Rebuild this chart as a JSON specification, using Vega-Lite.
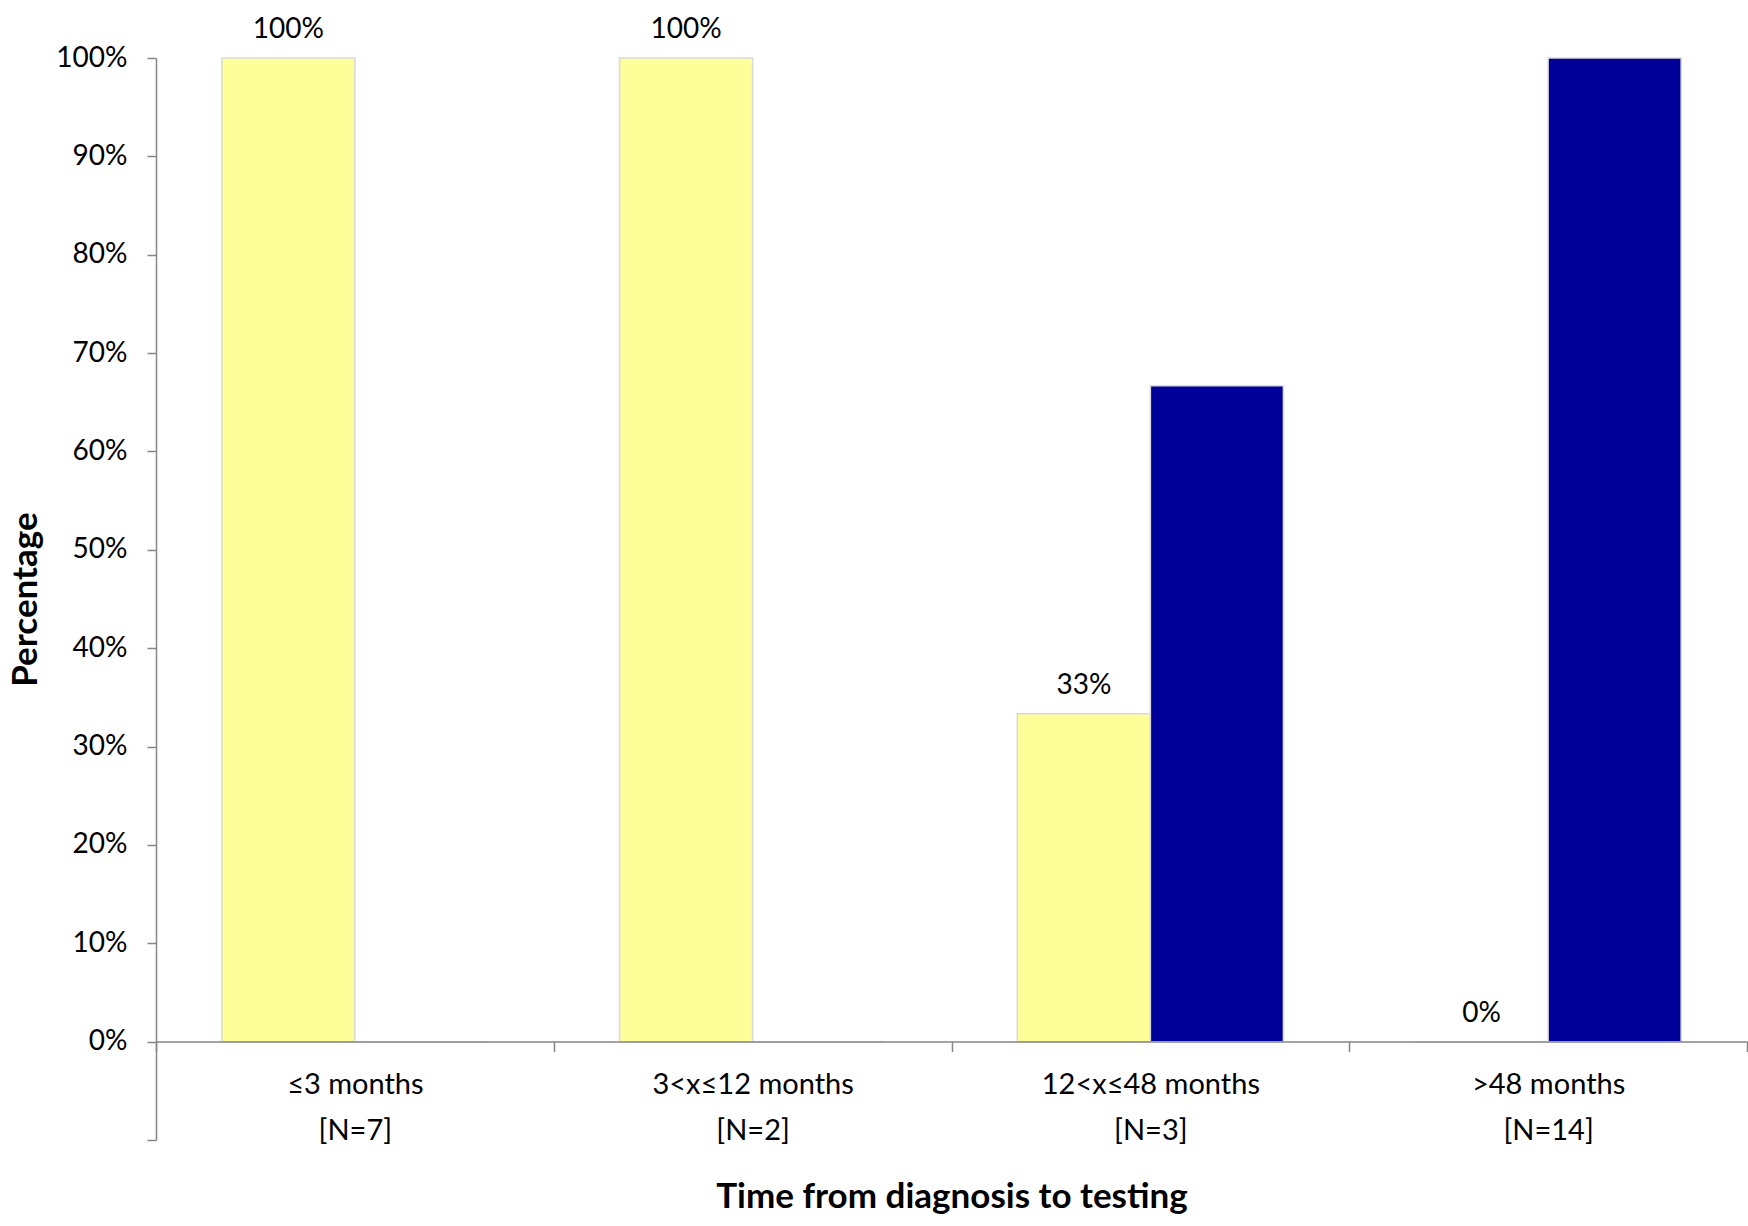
{
  "$schema": "https://vega.github.io/schema/vega-lite/v6.json",
  "width": 1591,
  "height": 1082,
  "autosize": {"type": "none"},
  "padding": {"left": 156, "top": 58, "right": 1, "bottom": 86},
  "config": {
    "font": "Lato",
    "view": {"stroke": null},
    "axis": {"grid": false}
  },
  "data": {
    "values": [
      {"period": "≤3 months|[N=7]", "series": "Series 1", "share": 1.0},
      {"period": "≤3 months|[N=7]", "series": "Series 2", "share": 0},
      {"period": "3<x≤12 months|[N=2]", "series": "Series 1", "share": 1.0},
      {"period": "3<x≤12 months|[N=2]", "series": "Series 2", "share": 0},
      {"period": "12<x≤48 months|[N=3]", "series": "Series 1", "share": 0.3333},
      {"period": "12<x≤48 months|[N=3]", "series": "Series 2", "share": 0.6667},
      {"period": ">48 months|[N=14]", "series": "Series 1", "share": 0},
      {"period": ">48 months|[N=14]", "series": "Series 2", "share": 1.0}
    ]
  },
  "encoding": {
    "x": {
      "field": "period",
      "type": "nominal",
      "sort": null,
      "scale": {"paddingInner": 0, "paddingOuter": 0},
      "axis": {
        "title": "Time from diagnosis to testing",
        "titleFontSize": 35,
        "titleFontWeight": "bold",
        "titleColor": "black",
        "titlePadding": 34,
        "labelAngle": 0,
        "labelExpr": "split(datum.label, '|')",
        "labelFontSize": 29,
        "labelLimit": 0,
        "labelColor": "black",
        "labelLineHeight": 46,
        "labelPadding": 19,
        "tickBand": "extent",
        "tickSize": 10,
        "tickWidth": 1.5,
        "tickColor": "#868686",
        "domainColor": "#868686",
        "domainWidth": 1.5,
        "offset": -98.4,
        "zindex": 1
      }
    },
    "xOffset": {
      "field": "series",
      "type": "nominal",
      "scale": {"domain": ["Series 1", "Series 2"], "paddingInner": 0, "paddingOuter": 0.495}
    },
    "y": {
      "field": "share",
      "type": "quantitative",
      "scale": {"domain": [-0.1, 1], "nice": false, "zero": false},
      "axis": {
        "title": "Percentage",
        "titleFontSize": 35,
        "titleFontWeight": "bold",
        "titleColor": "black",
        "titlePadding": 12,
        "values": [-0.1, 0, 0.1, 0.2, 0.3, 0.4, 0.5, 0.6, 0.7, 0.8, 0.9, 1],
        "labelExpr": "datum.value < 0 ? '' : format(datum.value, '.0%')",
        "labelFontSize": 28,
        "labelColor": "black",
        "labelPadding": 20,
        "tickSize": 9,
        "tickWidth": 1.5,
        "tickColor": "#868686",
        "domainColor": "#868686",
        "domainWidth": 1.5,
        "zindex": 1
      }
    }
  },
  "layer": [
    {
      "mark": {"type": "bar", "stroke": "#d9d9d9", "strokeWidth": 1.5},
      "encoding": {
        "y2": {"datum": 0},
        "color": {
          "field": "series",
          "type": "nominal",
          "scale": {"domain": ["Series 1", "Series 2"], "range": ["#ffff99", "#000099"]},
          "legend": null
        }
      }
    },
    {
      "transform": [{"filter": "datum.series === 'Series 1'"}],
      "mark": {"type": "text", "dy": -28, "baseline": "middle", "fontSize": 28, "color": "black"},
      "encoding": {
        "text": {"field": "share", "type": "quantitative", "format": ".0%"}
      }
    }
  ]
}
